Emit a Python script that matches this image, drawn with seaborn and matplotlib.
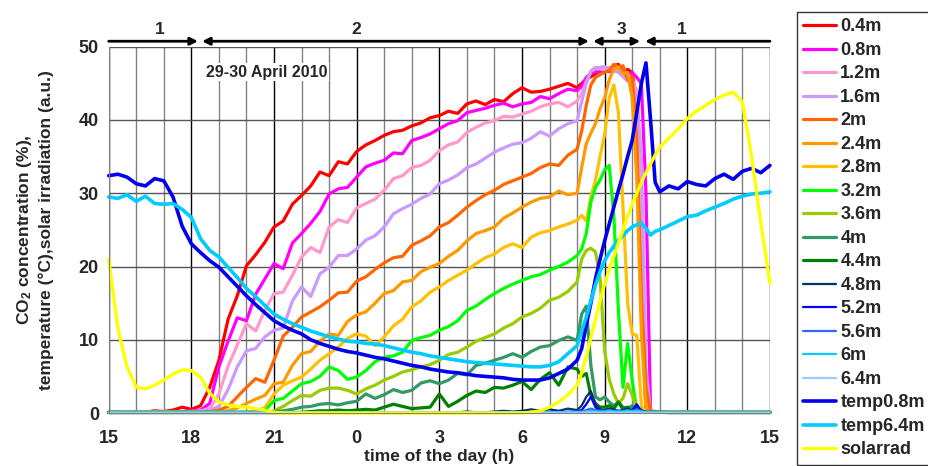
import numpy as np
import matplotlib
matplotlib.use('Agg')
import matplotlib.pyplot as plt
import seaborn as sns

# time axis in hours after 15:00 (29 April): 20-min steps, 10-min steps 8:00-11:00
t = np.concatenate([np.arange(0, 17 + 1e-9, 1 / 3),
                    17 + np.arange(1, 19) / 6,
                    20 + np.arange(1, 13) / 3])

hour_ticks = [0, 3, 6, 9, 12, 15, 18, 21, 24]
hour_labels = ['15', '18', '21', '0', '3', '6', '9', '12', '15']

co2_04 = [0.1, 0.2, 0.1, 0.2, 0.1, 0.3, 0.2, 0.4, 0.8,
          0.5, 1.0, 3.5, 7.2, 12.8, 16.0, 20.1, 21.6, 23.3,
          25.4, 26.2, 28.5, 29.7, 31.0, 32.9, 32.4, 34.3, 34.0,
          35.7, 36.6, 37.2, 37.9, 38.4, 38.6, 39.2, 39.6, 40.3,
          40.6, 41.2, 40.9, 42.2, 42.6, 42.1, 42.8, 42.5, 43.6,
          44.4, 43.8, 43.9, 44.2, 44.6, 45.0, 44.4,
          45.0, 45.6, 45.9, 46.3, 46.6, 46.8, 47.0, 47.4, 47.6, 46.4, 46.9, 46.5, 42.0, 14.0, 0.4, 0.2, 0.1, 0.1,
          0.1, 0.1, 0.2, 0.1, 0.1, 0.1, 0.2, 0.1, 0.1, 0.1, 0.1, 0.1]
co2_08 = [0.1, 0.1, 0.1, 0.1, 0.1, 0.2, 0.1, 0.2, 0.2,
          0.3, 0.4, 1.3, 6.3, 9.8, 13.0, 12.6, 16.2, 18.3,
          20.4, 19.7, 23.2, 24.5, 25.9, 27.5, 29.9, 30.6, 30.8,
          32.2, 33.6, 34.1, 34.5, 35.5, 35.4, 37.2, 37.6, 38.1,
          38.8, 39.5, 39.9, 41.0, 41.3, 41.6, 42.0, 42.3, 41.8,
          42.2, 42.4, 43.2, 42.9, 43.6, 44.2, 44.0,
          44.6, 45.8, 46.4, 46.6, 46.5, 46.8, 46.6, 46.9, 47.1, 46.7, 46.2, 46.5, 45.8, 45.0, 30.0, 0.3, 0.2, 0.1,
          0.1, 0.1, 0.1, 0.2, 0.1, 0.1, 0.1, 0.1, 0.2, 0.1, 0.1, 0.1]
co2_12 = [0.1, 0.1, 0.1, 0.1, 0.1, 0.1, 0.1, 0.2, 0.1,
          0.2, 0.3, 0.6, 2.6, 6.4, 9.3, 12.2, 11.2, 14.0,
          16.3, 16.5, 18.8, 21.3, 22.6, 21.9, 25.4, 26.4, 26.0,
          28.0, 28.6, 29.2, 30.4, 32.0, 32.4, 33.5, 33.8, 34.5,
          35.8, 36.6, 37.0, 38.3, 39.0, 39.6, 39.9, 40.5, 40.4,
          40.8, 41.2, 41.8, 42.2, 42.4, 41.8, 42.6,
          43.6, 45.2, 46.7, 47.2, 47.0, 46.8, 47.2, 46.6, 46.8, 46.0, 46.3, 45.5, 44.0, 30.0, 2.0, 0.2, 0.1, 0.1,
          0.1, 0.1, 0.1, 0.1, 0.1, 0.2, 0.1, 0.1, 0.1, 0.1, 0.1, 0.1]
co2_16 = [0.1, 0.1, 0.1, 0.1, 0.1, 0.1, 0.1, 0.1, 0.1,
          0.1, 0.2, 0.4, 0.9, 3.2, 6.3, 8.5, 8.8, 10.4,
          11.3, 11.6, 15.3, 17.2, 15.9, 19.0, 19.9, 21.5, 21.5,
          22.4, 23.6, 24.2, 25.4, 27.2, 27.9, 28.5, 29.3, 29.9,
          31.3, 31.8, 32.5, 33.5, 34.0, 34.8, 35.6, 36.2, 36.7,
          36.9, 37.5, 38.4, 37.8, 38.8, 39.5, 39.9,
          42.5, 45.0, 46.6, 47.0, 47.2, 47.3, 47.0, 46.8, 46.5, 45.9, 45.3, 44.8, 43.0, 35.0, 6.0, 0.2, 0.1, 0.1,
          0.1, 0.1, 0.1, 0.1, 0.1, 0.1, 0.1, 0.1, 0.1, 0.1, 0.1, 0.1]
co2_20 = [0.1, 0.1, 0.1, 0.1, 0.1, 0.1, 0.1, 0.1, 0.1,
          0.1, 0.1, 0.2, 0.4, 0.9, 2.2, 3.5, 4.7, 4.2,
          7.2, 10.5, 11.7, 13.1, 13.8, 14.5, 15.4, 16.4, 16.5,
          18.0, 18.6, 19.6, 20.5, 21.2, 21.4, 22.9, 23.5, 24.2,
          25.4, 26.0, 27.0, 28.1, 29.0, 29.8, 30.4, 31.2, 31.7,
          32.2, 32.7, 33.5, 34.0, 33.8, 35.2, 36.0,
          38.5, 42.0, 44.8, 45.8, 46.2, 46.5, 46.8, 47.6, 47.2, 47.4, 45.5, 46.0, 37.0, 16.0, 3.5, 0.2, 0.1, 0.1,
          0.1, 0.1, 0.1, 0.1, 0.1, 0.1, 0.1, 0.1, 0.1, 0.1, 0.1, 0.1]
co2_24 = [0.1, 0.1, 0.1, 0.1, 0.1, 0.1, 0.1, 0.1, 0.1,
          0.1, 0.1, 0.1, 0.1, 0.3, 0.7, 1.3, 1.9, 2.4,
          4.0, 4.2, 6.5, 8.1, 8.4, 9.8, 10.8, 10.6, 12.5,
          13.4, 13.8, 15.0, 16.3, 16.7, 17.9, 18.1, 19.3, 19.9,
          20.4, 21.4, 22.2, 23.5, 24.5, 24.9, 25.4, 26.6, 27.3,
          28.1, 28.8, 29.3, 29.5, 30.3, 29.8, 30.0,
          33.5, 36.8, 38.2, 39.5, 41.5, 43.0, 45.5, 47.0, 47.2, 46.3, 46.5, 43.0, 32.0, 11.0, 0.4, 0.1, 0.1, 0.1,
          0.1, 0.1, 0.1, 0.1, 0.1, 0.1, 0.1, 0.1, 0.1, 0.1, 0.1, 0.1]
co2_28 = [0.1, 0.1, 0.1, 0.1, 0.1, 0.1, 0.1, 0.1, 0.1,
          0.1, 0.1, 0.1, 0.1, 0.1, 0.1, 0.1, 0.3, 0.7,
          2.6, 3.8, 4.4, 4.9, 6.0, 7.2, 8.1, 9.0, 10.2,
          10.8, 10.5, 9.2, 10.4, 11.9, 12.8, 14.5, 15.3, 16.5,
          17.2, 18.1, 18.8, 19.5, 20.4, 21.2, 21.7, 22.6, 23.1,
          22.6, 24.0, 24.6, 24.9, 25.4, 25.8, 26.3,
          27.0, 26.2, 29.5, 31.8, 35.0, 38.0, 43.0, 44.8, 41.0, 28.0, 15.0, 10.8, 10.6, 1.0, 0.1, 0.1, 0.1, 0.1,
          0.1, 0.1, 0.1, 0.1, 0.1, 0.1, 0.1, 0.1, 0.1, 0.1, 0.1, 0.1]
co2_32 = [0.1, 0.1, 0.1, 0.1, 0.1, 0.1, 0.1, 0.1, 0.1,
          0.1, 0.1, 0.1, 0.1, 0.1, 0.1, 0.1, 0.1, 0.3,
          1.7, 2.0, 3.0, 4.0, 4.3, 5.0, 6.3, 5.8, 4.6,
          4.9, 5.8, 7.0, 7.6, 7.8, 8.3, 9.9, 10.3, 10.6,
          11.3, 11.8, 12.6, 14.0, 14.6, 15.5, 16.3, 17.0, 17.6,
          18.1, 18.6, 18.9, 19.5, 20.0, 20.6, 21.5,
          22.4, 24.5, 28.8, 30.8, 31.8, 33.2, 33.8, 27.0, 14.0, 3.5, 9.5, 4.5, 0.3, 0.2, 0.1, 0.1, 0.1, 0.1,
          0.1, 0.1, 0.1, 0.1, 0.1, 0.1, 0.1, 0.1, 0.1, 0.1, 0.1, 0.1]
co2_36 = [0.1, 0.1, 0.1, 0.1, 0.1, 0.1, 0.1, 0.1, 0.1,
          0.1, 0.1, 0.1, 0.1, 0.1, 0.1, 0.1, 0.1, 0.1,
          0.3, 0.9, 1.7, 2.4, 2.3, 3.1, 3.4, 3.4, 3.1,
          2.6, 3.3, 3.8, 4.5, 5.0, 5.6, 5.9, 6.3, 6.6,
          7.2, 8.0, 8.3, 9.0, 9.8, 10.3, 10.8, 11.6, 12.2,
          13.1, 13.6, 14.3, 15.4, 15.8, 16.6, 17.9,
          21.0, 22.2, 22.5, 22.0, 18.5, 8.5, 4.6, 2.6, 1.3, 2.0, 4.0, 2.5, 0.3, 0.2, 0.1, 0.1, 0.1, 0.1,
          0.1, 0.1, 0.1, 0.1, 0.1, 0.1, 0.1, 0.1, 0.1, 0.1, 0.1, 0.1]
co2_40 = [0.1, 0.1, 0.1, 0.1, 0.1, 0.1, 0.1, 0.1, 0.1,
          0.1, 0.1, 0.1, 0.1, 0.1, 0.1, 0.1, 0.1, 0.1,
          0.2, 0.3, 0.5, 0.8, 0.9, 1.2, 1.3, 1.1, 1.4,
          1.6, 2.6, 2.0, 2.5, 3.2, 2.8, 3.1, 4.1, 4.4,
          4.0, 4.5, 5.4, 5.2, 6.5, 6.8, 7.2, 7.6, 8.1,
          7.6, 8.4, 9.0, 9.2, 9.9, 10.4, 9.9,
          13.5, 14.6, 6.5, 2.2, 1.8, 2.2, 1.5, 1.0, 1.5, 0.8, 0.6, 1.0, 0.5, 0.3, 0.1, 0.1, 0.1, 0.1,
          0.1, 0.1, 0.1, 0.1, 0.1, 0.1, 0.1, 0.1, 0.1, 0.1, 0.1, 0.1]
co2_44 = [0.05, 0.05, 0.05, 0.05, 0.05, 0.05, 0.05, 0.05, 0.05,
          0.05, 0.05, 0.05, 0.05, 0.05, 0.05, 0.05, 0.05, 0.05,
          0.05, 0.05, 0.05, 0.1, 0.2, 0.3, 0.3, 0.4, 0.3,
          0.4, 0.5, 0.4, 0.8, 1.2, 0.9, 0.6, 0.7, 0.8,
          2.6, 0.9, 1.6, 2.4, 3.0, 2.8, 3.5, 3.4, 3.8,
          4.3, 3.2, 4.6, 5.5, 3.8, 6.3, 6.0,
          5.0, 5.4, 2.4, 1.3, 0.8, 0.8, 1.0, 0.6, 1.5, 0.5, 0.8, 0.3, 0.2, 0.1, 0.1, 0.1, 0.1, 0.1,
          0.05, 0.05, 0.05, 0.05, 0.05, 0.05, 0.05, 0.05, 0.05, 0.05, 0.05, 0.05]
co2_48 = [0.05, 0.05, 0.05, 0.05, 0.05, 0.05, 0.05, 0.05, 0.05,
          0.05, 0.05, 0.05, 0.05, 0.05, 0.05, 0.05, 0.05, 0.05,
          0.05, 0.05, 0.05, 0.05, 0.05, 0.05, 0.05, 0.05, 0.05,
          0.05, 0.1, 0.05, 0.05, 0.1, 0.05, 0.05, 0.1, 0.05,
          0.1, 0.05, 0.1, 0.2, 0.1, 0.1, 0.2, 0.3, 0.2,
          0.3, 0.5, 0.3, 0.5, 0.3, 0.6, 0.4,
          1.0, 2.2, 3.0, 1.2, 0.5, 0.4, 0.6, 0.5, 0.3, 0.4, 0.6, 0.3, 0.9, 0.4, 0.1, 0.05, 0.05, 0.05,
          0.05, 0.05, 0.05, 0.05, 0.05, 0.05, 0.05, 0.05, 0.05, 0.05, 0.05, 0.05]
co2_52 = [0.05, 0.05, 0.05, 0.05, 0.05, 0.05, 0.05, 0.05, 0.05,
          0.05, 0.05, 0.05, 0.05, 0.05, 0.05, 0.05, 0.05, 0.05,
          0.05, 0.05, 0.05, 0.05, 0.05, 0.05, 0.05, 0.05, 0.05,
          0.05, 0.05, 0.05, 0.05, 0.05, 0.05, 0.05, 0.05, 0.05,
          0.05, 0.05, 0.05, 0.05, 0.05, 0.05, 0.05, 0.05, 0.05,
          0.05, 0.05, 0.1, 0.1, 0.2, 0.1, 0.2,
          0.4, 1.2, 2.2, 0.8, 0.3, 0.2, 0.3, 0.2, 0.2, 0.3, 0.2, 0.4, 1.2, 0.3, 0.1, 0.05, 0.05, 0.05,
          0.05, 0.05, 0.05, 0.05, 0.05, 0.05, 0.05, 0.05, 0.05, 0.05, 0.05, 0.05]
co2_56 = [0.1, 0.1, 0.1, 0.1, 0.1, 0.1, 0.1, 0.1, 0.1,
          0.1, 0.1, 0.1, 0.1, 0.1, 0.1, 0.1, 0.1, 0.1,
          0.1, 0.1, 0.1, 0.1, 0.1, 0.1, 0.1, 0.1, 0.1,
          0.1, 0.1, 0.1, 0.1, 0.1, 0.1, 0.1, 0.1, 0.1,
          0.1, 0.1, 0.1, 0.1, 0.1, 0.1, 0.1, 0.1, 0.1,
          0.1, 0.1, 0.1, 0.1, 0.1, 0.2, 0.2,
          0.2, 0.4, 0.6, 0.4, 0.3, 0.3, 0.4, 0.3, 0.3, 0.3, 0.4, 0.3, 0.5, 0.3, 0.1, 0.1, 0.1, 0.1,
          0.1, 0.1, 0.1, 0.1, 0.1, 0.1, 0.1, 0.1, 0.1, 0.1, 0.1, 0.1]
co2_60 = [0.1, 0.1, 0.1, 0.1, 0.1, 0.1, 0.1, 0.1, 0.1,
          0.1, 0.1, 0.1, 0.1, 0.1, 0.1, 0.1, 0.1, 0.1,
          0.1, 0.1, 0.1, 0.1, 0.1, 0.1, 0.1, 0.1, 0.1,
          0.1, 0.1, 0.1, 0.1, 0.1, 0.1, 0.1, 0.1, 0.1,
          0.1, 0.1, 0.1, 0.1, 0.1, 0.1, 0.1, 0.1, 0.1,
          0.1, 0.1, 0.1, 0.1, 0.1, 0.1, 0.1,
          0.1, 0.2, 0.3, 0.2, 0.2, 0.2, 0.3, 0.2, 0.2, 0.2, 0.3, 0.2, 0.3, 0.2, 0.1, 0.1, 0.1, 0.1,
          0.1, 0.1, 0.1, 0.1, 0.1, 0.1, 0.1, 0.1, 0.1, 0.1, 0.1, 0.1]
co2_64 = [0.05, 0.05, 0.05, 0.05, 0.05, 0.05, 0.05, 0.05, 0.05,
          0.05, 0.05, 0.05, 0.05, 0.05, 0.05, 0.05, 0.05, 0.05,
          0.05, 0.05, 0.05, 0.05, 0.05, 0.05, 0.05, 0.05, 0.05,
          0.05, 0.05, 0.05, 0.05, 0.05, 0.05, 0.05, 0.05, 0.05,
          0.05, 0.05, 0.05, 0.05, 0.05, 0.05, 0.05, 0.05, 0.05,
          0.05, 0.05, 0.05, 0.05, 0.05, 0.05, 0.05,
          0.05, 0.1, 0.1, 0.1, 0.05, 0.05, 0.1, 0.05, 0.05, 0.05, 0.1, 0.05, 0.1, 0.05, 0.05, 0.05, 0.05, 0.05,
          0.05, 0.05, 0.05, 0.05, 0.05, 0.05, 0.05, 0.05, 0.05, 0.05, 0.05, 0.05]

temp_08 = [32.4, 32.6, 32.2, 31.3, 31.0, 32.0, 31.7, 29.5, 25.5,
           23.1, 21.9, 20.8, 19.9, 18.6, 17.3, 16.0, 14.8, 13.7,
           12.6, 11.9, 11.3, 10.8, 10.0, 9.5, 9.1, 8.7, 8.4,
           8.2, 7.9, 7.6, 7.4, 7.1, 6.8, 6.5, 6.3, 6.0,
           5.8, 5.6, 5.5, 5.3, 5.1, 5.0, 4.9, 4.8, 4.6,
           4.5, 4.5, 4.5, 4.8, 5.4, 6.0, 7.2,
           8.8, 12.0, 15.0, 18.3, 21.0, 23.5, 25.8, 28.1, 30.4, 32.6, 35.0, 37.2, 41.0, 45.0, 47.8, 40.0, 31.5, 30.2,
           31.0, 30.6, 31.6, 31.2, 31.0, 32.0, 32.6, 31.9, 33.0, 33.4, 32.8, 33.8]
temp_64 = [29.5, 29.3, 29.8, 28.9, 29.6, 28.6, 28.5, 28.6, 27.8,
           26.7, 23.8, 22.2, 21.3, 19.9, 18.5, 17.0, 15.9, 14.7,
           13.5, 12.8, 12.2, 11.7, 11.2, 10.8, 10.4, 10.1, 9.8,
           9.7, 9.5, 9.4, 9.2, 8.9, 8.6, 8.3, 8.1, 7.8,
           7.6, 7.4, 7.2, 7.0, 6.9, 6.8, 6.7, 6.6, 6.5,
           6.4, 6.3, 6.3, 6.5, 7.0, 8.1, 9.2,
           11.2, 13.1, 15.3, 17.5, 19.3, 20.8, 21.9, 22.8, 23.6, 24.2, 24.9, 25.4, 25.7, 25.9, 25.2, 24.3, 24.8, 25.0,
           25.6, 26.2, 26.8, 27.0, 27.6, 28.1, 28.6, 29.2, 29.6, 29.9, 30.0, 30.2]
solarrad = [21.0, 11.5, 6.3, 3.5, 3.3, 3.8, 4.5, 5.3, 5.9,
            5.8, 4.9, 2.7, 1.5, 1.1, 0.9, 0.8, 0.6, 0.4,
            0.1, 0.0, 0.0, 0.0, 0.0, 0.0, 0.0, 0.0, 0.0,
            0.0, 0.0, 0.0, 0.0, 0.0, 0.0, 0.0, 0.0, 0.0,
            0.0, 0.0, 0.0, 0.0, 0.0, 0.0, 0.0, 0.0, 0.0,
            0.0, 0.1, 0.3, 0.8, 1.5, 2.5, 3.8,
            5.5, 7.7, 10.3, 12.8, 15.3, 17.6, 19.6, 21.4, 23.2, 25.0, 26.8, 28.5, 30.0, 31.5, 32.8, 34.0, 35.2, 36.3,
            37.5, 38.8, 40.2, 41.2, 42.0, 42.8, 43.4, 43.8, 42.5, 35.0, 26.0, 17.7]

names = ['0.4m', '0.8m', '1.2m', '1.6m', '2m', '2.4m', '2.8m', '3.2m', '3.6m', '4m',
         '4.4m', '4.8m', '5.2m', '5.6m', '6m', '6.4m', 'temp0.8m', 'temp6.4m', 'solarrad']
series = [co2_04, co2_08, co2_12, co2_16, co2_20, co2_24, co2_28, co2_32, co2_36, co2_40,
          co2_44, co2_48, co2_52, co2_56, co2_60, co2_64, temp_08, temp_64, solarrad]
colors = ['#FF0000', '#FF00FF', '#FF99CC', '#CC99FF', '#FF6600', '#FF9900', '#FFC000',
          '#00FF00', '#99CC00', '#339966', '#008000', '#003366', '#0000FF', '#3366FF',
          '#00CCFF', '#99CCFF', '#0000EE', '#00CCFF', '#FFFF00']
widths = [2.3] * 11 + [1.6] * 5 + [2.6, 2.6, 2.4]

for n, s in zip(names, series):
    assert len(s) == len(t), (n, len(s))

sns.set_style('white')
plt.rcParams['font.family'] = ['Liberation Sans', 'DejaVu Sans']
plt.rcParams['font.weight'] = 'bold'
plt.rcParams['mathtext.fontset'] = 'custom'
plt.rcParams['mathtext.rm'] = 'Liberation Sans:bold'
plt.rcParams['mathtext.it'] = 'Liberation Sans:bold'
plt.rcParams['mathtext.bf'] = 'Liberation Sans:bold'

fig = plt.figure(figsize=(9.29, 4.66), dpi=100)
ax = fig.add_axes([0.117, 0.1137, 0.7118, 0.786])

handles = []
for n, s, c, w in zip(names, series, colors, widths):
    sns.lineplot(x=t, y=s, color=c, linewidth=w, ax=ax, legend=False)
    line = ax.lines[-1]
    line.set_clip_on(False)
    handles.append(line)

ax.set_xlim(0, 24)
ax.set_ylim(0, 50)
ax.set_xticks(hour_ticks)
ax.set_xticklabels(hour_labels)
ax.set_xticks(range(25), minor=True)
ax.set_yticks(range(0, 51, 10))
ax.set_axisbelow(True)
ax.grid(which='minor', axis='x', color='#808080', lw=1)
ax.grid(which='major', axis='x', color='black', lw=1)
ax.grid(which='major', axis='y', color='#555555', lw=1)
for side in ['top', 'right']:
    ax.spines[side].set_visible(False)
for side in ['left', 'bottom']:
    ax.spines[side].set_color('#808080')
ax.tick_params(axis='x', which='major', length=5, color='#555555', pad=7, labelsize=13)
ax.tick_params(axis='x', which='minor', length=0)
ax.tick_params(axis='y', length=4, color='#555555', pad=3, labelsize=13)
for lab in ax.get_xticklabels() + ax.get_yticklabels():
    lab.set_fontweight('bold')

ax.set_xlabel('time of the day (h)', fontsize=12.5, fontweight='bold', labelpad=2)
ax.set_ylabel('CO$_2$ concentration (%),\ntemperature (°C),solar irradiation (a.u.)',
              fontsize=12.5, fontweight='bold', linespacing=1.3)
ax.yaxis.set_label_coords(-0.083, 0.5)

ax.text(5.73, 46.5, '29-30 April 2010', fontsize=11.5, fontweight='bold', ha='center', va='center',
        bbox=dict(facecolor='white', edgecolor='none', pad=1))

# phase arrows above the plot
arrow_y = 50.75
arrows = [(3.24, 0.0, '-|>'), (17.43, 3.39, '<|-|>'), (19.29, 17.58, '<|-|>'), (19.47, 24.0, '-|>')]
for x_end, x_start, style in arrows:
    ax.annotate('', xy=(x_end, arrow_y), xytext=(x_start, arrow_y),
                arrowprops=dict(arrowstyle=style, color='black', lw=2, mutation_scale=11,
                                shrinkA=0, shrinkB=0),
                annotation_clip=False)
for x, lab in [(1.87, '1'), (9.0, '2'), (18.6, '3'), (20.8, '1')]:
    ax.text(x, 52.4, lab, fontsize=12.5, fontweight='bold', ha='center', va='center', clip_on=False)

leg = fig.legend(handles, names, loc='upper left', bbox_to_anchor=(797 / 929, 1 - 12 / 466),
                 frameon=True, fancybox=False, edgecolor='black', fontsize=13,
                 borderpad=0.35, labelspacing=0.36, handlelength=1.8, handletextpad=0.25,
                 borderaxespad=0)
leg.get_frame().set_linewidth(1.0)
for txt in leg.get_texts():
    txt.set_fontweight('bold')

fig.savefig('out.png', dpi=100)
